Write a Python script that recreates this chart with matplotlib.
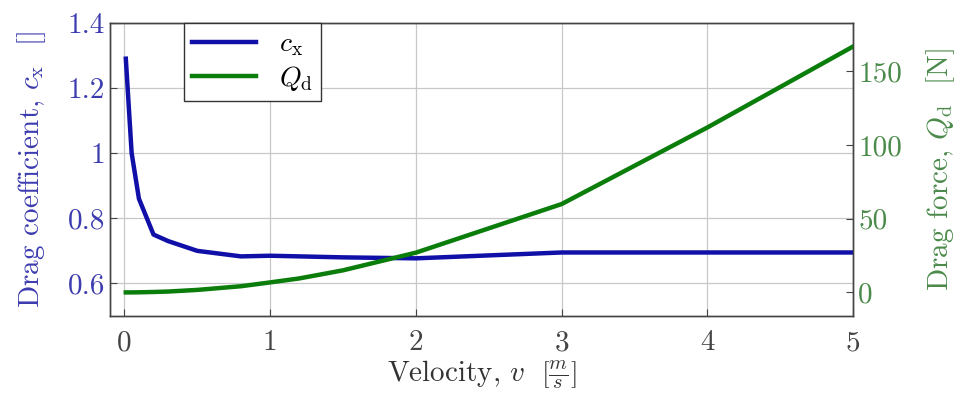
import matplotlib
matplotlib.use("Agg")
import matplotlib.pyplot as plt

# ------------------------------------------------------------------
# Measured data: drag coefficient and drag force against velocity
# ------------------------------------------------------------------
velocity = [0.01, 0.05, 0.1, 0.2, 0.3, 0.5, 0.8, 1.0, 1.2, 1.5, 2.0, 3.0, 4.0, 5.0]
drag_coeff = [1.29, 1.0, 0.86, 0.75, 0.73, 0.70, 0.683, 0.685, 0.683, 0.68,
              0.677, 0.695, 0.695, 0.695]
drag_force = [0.0, 0.02, 0.08, 0.3, 0.6, 1.7, 4.2, 6.8, 9.5, 15.0, 27.0, 60.0,
              112.0, 167.0]

x_ticks = [0, 1, 2, 3, 4, 5]
cx_ticks = [0.6, 0.8, 1.0, 1.2, 1.4]
cx_tick_labels = ["0.6", "0.8", "1", "1.2", "1.4"]
qd_ticks = [0, 50, 100, 150]

blue = "#1010a8"
green = "#0a7d0a"

plt.rcParams["font.family"] = "serif"
plt.rcParams["font.serif"] = ["cmr10", "DejaVu Serif"]
plt.rcParams["mathtext.fontset"] = "cm"
plt.rcParams["axes.unicode_minus"] = False
fs = 21

fig = plt.figure(figsize=(9.63, 4.01), dpi=100)
ax = fig.add_axes([0.114, 0.212, 0.772, 0.731])
ax2 = ax.twinx()

ax.plot(velocity, drag_coeff, color=blue, lw=3.2, label=r"$c_{\rm x}$", zorder=3)
ax2.plot(velocity, drag_force, color=green, lw=3.2, label=r"$Q_{\rm d}$", zorder=3)

ax.set_xlim(-0.1, 5.0)
ax.set_ylim(0.5, 1.4)
ax2.set_ylim(-16, 183)

ax.set_xticks(x_ticks)
ax.set_xticklabels([str(t) for t in x_ticks])
ax.set_yticks(cx_ticks)
ax.set_yticklabels(cx_tick_labels)
ax2.set_yticks(qd_ticks)
ax2.set_yticklabels([str(t) for t in qd_ticks])

ax.grid(True, color="#c8c8c8", lw=0.9)
ax.set_axisbelow(True)

ax.tick_params(axis="both", direction="in", length=5, labelsize=fs, color="#444444")
ax.tick_params(axis="y", labelcolor="#3c3cb0")
ax.tick_params(axis="x", labelcolor="#444444", pad=10)
ax2.tick_params(axis="y", direction="in", length=5, labelsize=fs,
                labelcolor="#4a8a4a", color="#444444")

for a in (ax, ax2):
    for sp in a.spines.values():
        sp.set_color("#444444")
        sp.set_linewidth(1.0)

ax.set_xlabel(r"Velocity, $v\ \ \left[\frac{m}{s}\right]$", fontsize=fs,
              color="#333333", labelpad=2)
ax.set_ylabel(r"Drag coefficient, $c_{\rm x}$  []", fontsize=fs, color="#3c3cb0",
              labelpad=14)
ax2.set_ylabel(r"Drag force, $Q_{\rm d}$  [N]", fontsize=fs, color="#4a8a4a",
               labelpad=16)

lines = ax.get_lines() + ax2.get_lines()
leg = ax.legend(lines, [l.get_label() for l in lines], loc="upper left",
                bbox_to_anchor=(0.1, 1.0), borderaxespad=0, fontsize=fs - 1,
                fancybox=False, framealpha=1, edgecolor="#333333",
                handlelength=2.3, borderpad=0.3, labelspacing=0.2)
leg.get_frame().set_linewidth(1.0)
ax2.set_zorder(ax.get_zorder() + 1)
ax.patch.set_visible(False)
leg.remove()
ax2.add_artist(leg)

fig.savefig("out.png", dpi=100)
